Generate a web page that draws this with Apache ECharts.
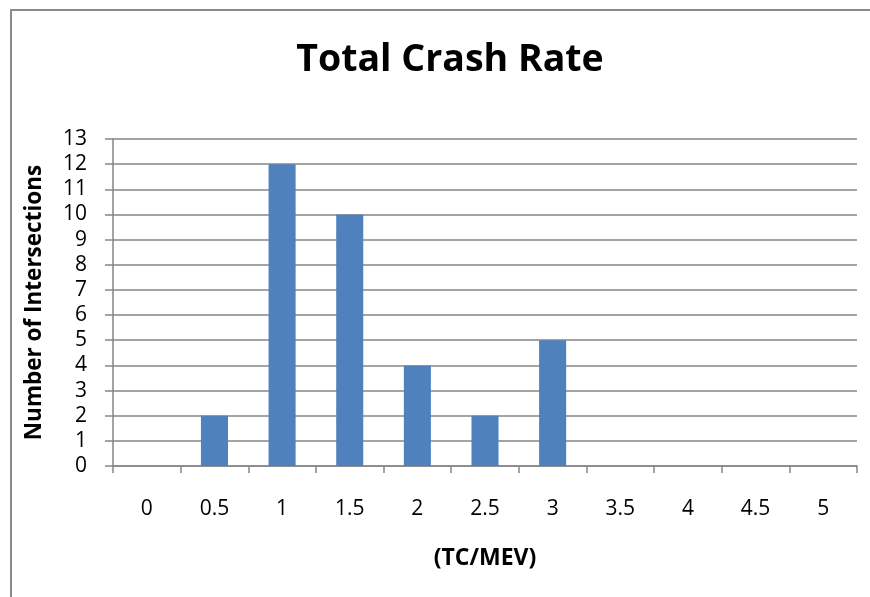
<!DOCTYPE html>
<html><head><meta charset="utf-8">
<script src="https://cdn.jsdelivr.net/npm/echarts@6/dist/echarts.min.js"></script>
<style>html,body{margin:0;padding:0;background:#fff}#c{width:870px;height:597px}</style>
</head><body><div id="c"></div>
<script>
const categories = ['0','0.5','1','1.5','2','2.5','3','3.5','4','4.5','5'];
const counts = [0, 2, 12, 10, 4, 2, 5, 0, 0, 0, 0];
const titleText = 'Total Crash Rate';
const xName = '(TC/MEV)';
const yName = 'Number of Intersections';
const FONT = 'Open Sans';
const chart = echarts.init(document.getElementById('c'), null, {renderer:'canvas'});
chart.setOption({
  animation:false,
  backgroundColor:'#fff',
  graphic:[{type:'rect', shape:{x:11,y:10,width:2000,height:2000}, style:{fill:'none', stroke:'#8a8a8a', lineWidth:2}, silent:true}],
  title:{text:titleText, left:445, top:36, textAlign:'center',
    textStyle:{fontFamily:FONT, fontWeight:'bold', fontSize:37.5, color:'#000'}},
  grid:{left:113, top:139, right:13, bottom:131, containLabel:false},
  xAxis:{type:'category', data:categories, boundaryGap:true,
    name:xName, nameLocation:'middle', nameGap:81,
    nameTextStyle:{fontFamily:FONT, fontWeight:'bold', fontSize:23, color:'#000'},
    axisLine:{lineStyle:{color:'#868686', width:1.5}},
    axisTick:{show:true, alignWithLabel:false, length:7, lineStyle:{color:'#868686', width:1.5}},
    axisLabel:{fontFamily:FONT, fontSize:21, color:'#000', margin:33, interval:0},
    splitLine:{show:false}},
  yAxis:{type:'value', min:0, max:13, interval:1,
    name:yName, nameLocation:'middle', nameGap:67, nameRotate:90,
    nameTextStyle:{fontFamily:FONT, fontWeight:'bold', fontSize:22.5, color:'#000'},
    axisLine:{show:true, lineStyle:{color:'#868686', width:1.5}},
    axisTick:{show:true, length:8, lineStyle:{color:'#868686', width:1.5}},
    axisLabel:{fontFamily:FONT, fontSize:21, color:'#000', margin:26},
    splitLine:{show:true, lineStyle:{color:'#868686', width:1.5}}},
  series:[{type:'bar', data:counts, barWidth:'40%', itemStyle:{color:'#4F81BD'}}]
});
</script></body></html>
